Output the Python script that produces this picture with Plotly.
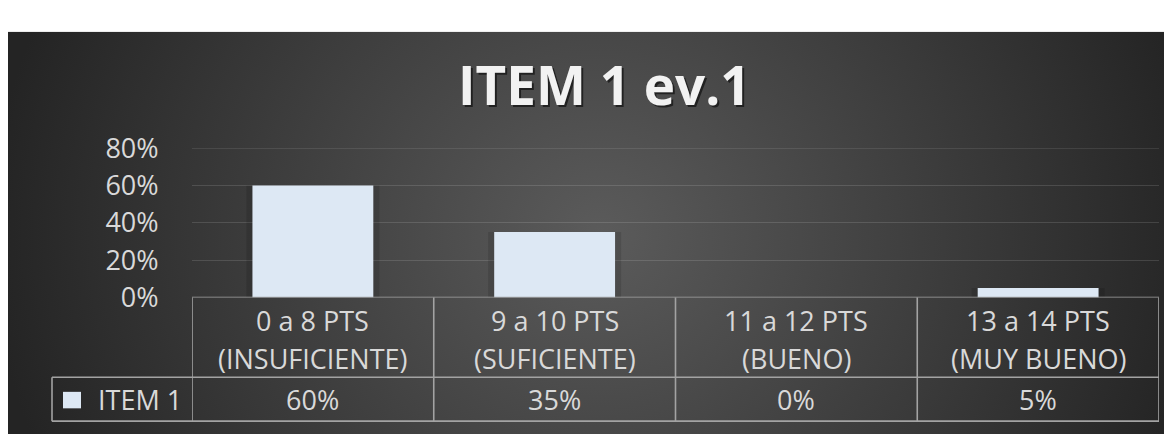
import base64
import plotly.graph_objects as go

# ---- data ----
categories = [
    "0 a 8 PTS (INSUFICIENTE)",
    "9 a 10 PTS (SUFICIENTE)",
    "11 a 12 PTS (BUENO)",
    "13 a 14 PTS (MUY BUENO)",
]
series_name = "ITEM 1"
values = [0.60, 0.35, 0.00, 0.05]
y_ticks = [0, 0.2, 0.4, 0.6, 0.8]
title_text = "ITEM 1 ev.1"

# ---- style ----
W, H = 1172, 443
OFF = 8  # page body margin
FONT = "Open Sans"
TXT = "#d9d9d9"
BAR = "#dde8f4"
LINE = "#a3a3a3"
GRID = "rgba(255,255,255,0.13)"


def px_x(x):
    return (x - OFF) / W


def px_y(y):
    return 1 - (y - OFF) / H


# background: radial gradient as svg image
svg = (
    '<svg xmlns="http://www.w3.org/2000/svg" width="1172" height="439" viewBox="0 0 1172 439" preserveAspectRatio="none">'
    '<defs><radialGradient id="g" gradientUnits="userSpaceOnUse" cx="592" cy="222" r="610">'
    '<stop offset="0" stop-color="#5b5b5b"/><stop offset="1" stop-color="#242424"/>'
    '</radialGradient></defs>'
    '<rect x="0" y="0" width="1172" height="439" fill="url(#g)"/></svg>'
)
bg_src = "data:image/svg+xml;base64," + base64.b64encode(svg.encode()).decode()

fig = go.Figure()

# subtle shadow behind bars
fig.add_trace(go.Bar(
    x=categories, y=values, width=0.55,
    marker=dict(color="rgba(0,0,0,0.12)", line=dict(width=0)),
    showlegend=False, hoverinfo="skip",
))
fig.add_trace(go.Bar(
    x=categories, y=values, name=series_name, width=0.5,
    marker=dict(color=BAR, line=dict(width=0)),
    showlegend=False,
))

x_dom = [px_x(192), px_x(1159)]
y_dom = [px_y(302), px_y(139)]
y_max = y_ticks[-1]

shapes = []
annotations = []

# top gridline (at the range edge)
shapes.append(dict(type="line", xref="x", yref="y", x0=-0.5, x1=len(categories) - 0.5,
                   y0=y_max, y1=y_max, line=dict(color=GRID, width=1.3), layer="below"))

# table horizontal lines
shapes.append(dict(type="line", xref="x", yref="y", x0=-0.5, x1=len(categories) - 0.5,
                   y0=0, y1=0, line=dict(color=LINE, width=1.6), layer="above"))
for yy in (389, 437):
    shapes.append(dict(type="line", xref="paper", yref="paper", x0=px_x(52), x1=x_dom[1],
                       y0=px_y(yy), y1=px_y(yy), line=dict(color=LINE, width=1.6)))
# table vertical lines
for i in range(len(categories) + 1):
    shapes.append(dict(type="line", xref="x", yref="paper", x0=i - 0.5, x1=i - 0.5,
                       y0=px_y(437), y1=y_dom[0], line=dict(color=LINE, width=1.6)))
shapes.append(dict(type="line", xref="paper", yref="paper", x0=px_x(52), x1=px_x(52),
                   y0=px_y(437), y1=px_y(389), line=dict(color=LINE, width=1.6)))

# legend swatch + label
shapes.append(dict(type="rect", xref="paper", yref="paper", x0=px_x(63), x1=px_x(81),
                   y0=px_y(423), y1=px_y(405), fillcolor=BAR, line=dict(width=0)))
annotations.append(dict(text=series_name, xref="paper", yref="paper", x=px_x(96), y=px_y(413),
                        xanchor="left", yanchor="middle", showarrow=False,
                        font=dict(family=FONT, size=27, color=TXT)))

# table cells
for cat, v in zip(categories, values):
    idx = cat.index(" (")
    line1, line2 = cat[:idx], cat[idx + 1:]
    for txt, yy in ((line1, 327), (line2, 369), (f"{v:.0%}", 413)):
        annotations.append(dict(text=txt, xref="x", yref="paper", x=cat, y=px_y(yy),
                                xanchor="center", yanchor="middle", showarrow=False,
                                font=dict(family=FONT, size=27, color=TXT)))

# title with shadow
for dx, dy, col in ((2, -2, "rgba(0,0,0,0.55)"), (0, 0, "#f2f2f2")):
    annotations.append(dict(text=f"<b>{title_text}</b>", xref="paper", yref="paper",
                            x=px_x(604), y=px_y(70), xanchor="center", yanchor="middle",
                            xshift=dx, yshift=dy, showarrow=False,
                            font=dict(family=FONT, size=53, color=col)))

fig.update_layout(
    width=W, height=H, autosize=False,
    margin=dict(l=0, r=0, t=0, b=0),
    paper_bgcolor="white", plot_bgcolor="rgba(0,0,0,0)",
    barmode="overlay", bargap=0.5,
    showlegend=False,
    images=[dict(source=bg_src, xref="paper", yref="paper", x=0, y=px_y(12),
                 sizex=1, sizey=px_y(12), xanchor="left", yanchor="top",
                 sizing="stretch", layer="below")],
    xaxis=dict(domain=x_dom, range=[-0.5, len(categories) - 0.5], showticklabels=False,
               showgrid=False, zeroline=False, showline=False, fixedrange=True),
    yaxis=dict(domain=y_dom, range=[0, y_max], tickvals=y_ticks, tickformat=".0%",
               showgrid=True, gridcolor=GRID, gridwidth=1.3,
               zeroline=False, showline=False, ticks="outside", ticklen=27,
               tickcolor="rgba(0,0,0,0)", tickfont=dict(family=FONT, size=27, color=TXT),
               fixedrange=True),
    shapes=shapes,
    annotations=annotations,
)

fig.write_html("out.html")
